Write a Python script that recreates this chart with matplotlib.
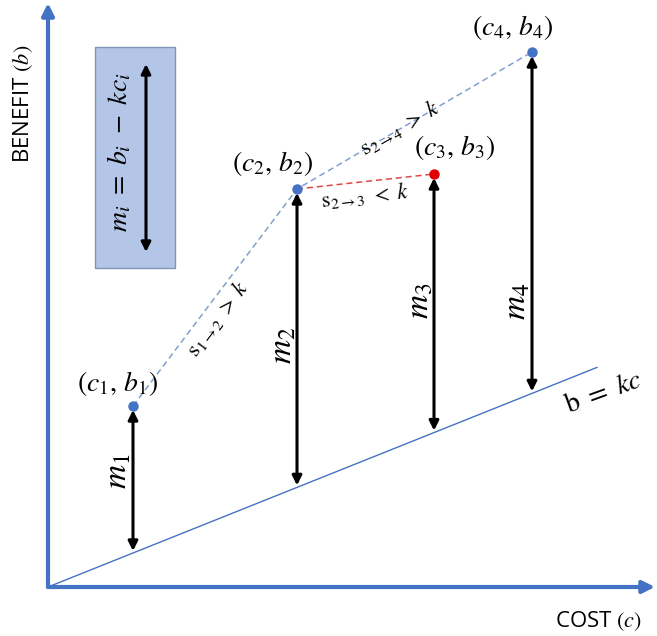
import matplotlib.pyplot as plt
from matplotlib.patches import Rectangle

plt.rcParams['mathtext.fontset'] = 'stix'

# data (arbitrary units)
cost = [8.5, 24.9, 38.6, 48.4]
benefit = [18.1, 39.8, 41.3, 53.5]
k = 0.4
c_max = 54.9
point_labels = ['$(c_1,\\, b_1)$', '$(c_2,\\, b_2)$', '$(c_3,\\, b_3)$', '$(c_4,\\, b_4)$']
margin_labels = ['$m_1$', '$m_2$', '$m_3$', '$m_4$']

blue = '#4472C4'
fig = plt.figure(figsize=(6.57, 6.36), dpi=100)
ax = fig.add_axes([0, 0, 1, 1])
ax.set_xlim(-4.8, 60.9)
ax.set_ylim(-4.9, 58.7)
ax.axis('off')

# axes arrows
ax.annotate('', xy=(60.7, 0), xytext=(0, 0),
            arrowprops=dict(arrowstyle='-|>', color=blue, lw=3, mutation_scale=18, shrinkA=0, shrinkB=0))
ax.annotate('', xy=(0, 58.4), xytext=(0, 0),
            arrowprops=dict(arrowstyle='-|>', color=blue, lw=3, mutation_scale=18, shrinkA=0, shrinkB=0))
ax.text(-2.5, 48.3, 'BENEFIT $(b)$', rotation=90, ha='center', va='center',
        fontsize=16, family='Open Sans')
ax.text(55.1, -3.4, 'COST $(c)$', ha='center', va='center', fontsize=16, family='Open Sans')

# b = kc line
ax.plot([0, c_max], [0, k * c_max], color=blue, lw=1)
ax.text(55.5, 19.5, '$\\mathrm{b}\\ =\\ kc$', rotation=20, ha='center', va='center', fontsize=20)

# dashed connections
ax.plot([cost[0], cost[1], cost[3]], [benefit[0], benefit[1], benefit[3]],
        color='#7f9fcf', lw=1.1, ls=(0, (4, 2.5)))
ax.plot([cost[1], cost[2]], [benefit[1], benefit[2]],
        color='#e04848', lw=1.1, ls=(0, (4, 2.5)))

# margin arrows
for i in range(4):
    ax.annotate('', xy=(cost[i], k * cost[i] + 0.2), xytext=(cost[i], benefit[i] - 0.4),
                arrowprops=dict(arrowstyle='<|-|>', color='black', lw=2.2, mutation_scale=14,
                                shrinkA=0, shrinkB=0))

label_off = [(-1.5, 2.3), (-2.4, 2.6), (2.1, 2.6), (-1.9, 2.4)]
m_pos = [(-1.6, 11.6), (-1.5, 24.2), (-1.5, 28.6), (-1.6, 28.6)]
for i in range(4):
    col = '#e00000' if i == 2 else blue
    ax.plot(cost[i], benefit[i], 'o', color=col, ms=6.5, zorder=5)
    ax.text(cost[i] + label_off[i][0], benefit[i] + label_off[i][1], point_labels[i],
            ha='center', va='center', fontsize=20)
    ax.text(cost[i] + m_pos[i][0], m_pos[i][1], margin_labels[i], rotation=90,
            ha='center', va='center', fontsize=24)

# slope labels
ax.text(17.0, 26.9, '$\\mathrm{s}_{1\\rightarrow 2}\\ >\\ k$', rotation=53, ha='center', va='center', fontsize=16)
ax.text(35.2, 45.9, '$\\mathrm{s}_{2\\rightarrow 4}\\ >\\ k$', rotation=30, ha='center', va='center', fontsize=16)
ax.text(31.7, 39.1, '$\\mathrm{s}_{2\\rightarrow 3}\\ <\\ k$', rotation=6, ha='center', va='center', fontsize=16)

# formula box
ax.add_patch(Rectangle((4.7, 31.9), 8.0, 22.1, facecolor='#b4c6e7', edgecolor='#8094b4', lw=1))
ax.annotate('', xy=(9.8, 52.3), xytext=(9.8, 33.5),
            arrowprops=dict(arrowstyle='<|-|>', color='black', lw=2.2, mutation_scale=14,
                            shrinkA=0, shrinkB=0))
ax.text(7.1, 43.5, '$m_i\\ =\\ b_i\\ -\\ kc_i$', rotation=90, ha='center', va='center', fontsize=20)

fig.savefig('out.png', dpi=100)
